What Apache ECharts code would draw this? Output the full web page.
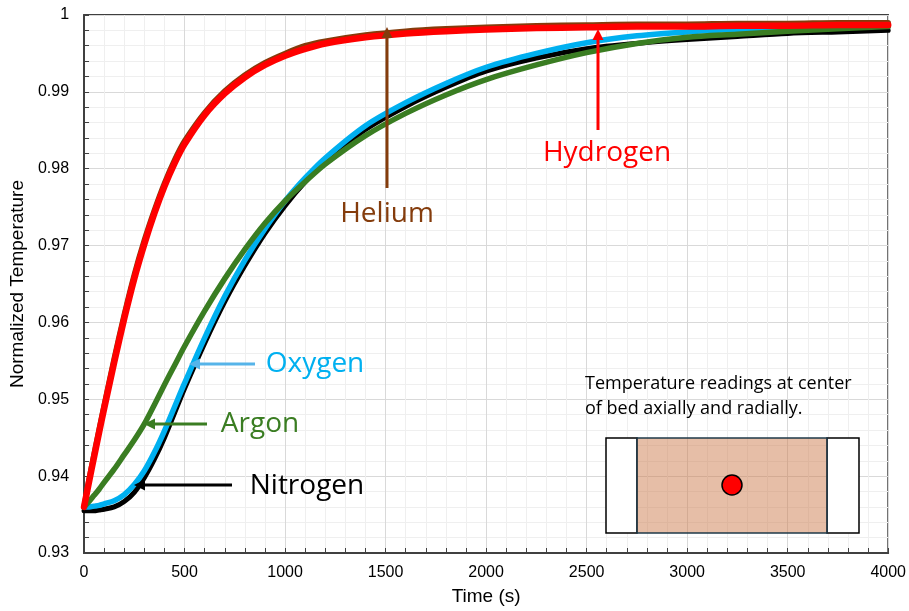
<!DOCTYPE html>
<html>
<head>
<meta charset="utf-8">
<title>Normalized Temperature</title>
<script src="https://cdn.jsdelivr.net/npm/echarts@6/dist/echarts.min.js"></script>
<style>
  html, body { margin: 0; padding: 0; background: #fff; }
  #chart { width: 909px; height: 611px; }
</style>
</head>
<body>
<div id="chart"></div>
<script>
const timeS = [0, 25, 50, 75, 100, 150, 200, 250, 300, 350, 400, 450, 500, 600, 700, 800, 900, 1000,
  1100, 1200, 1400, 1600, 1800, 2000, 2250, 2500, 2750, 3000, 3250, 3500, 3750, 4000];

const nitrogen = [0.9355, 0.9355, 0.9355, 0.9356, 0.9357, 0.9360, 0.9367, 0.9379, 0.9398, 0.9422, 0.9450, 0.9482, 0.9514, 0.9573, 0.9627, 0.9674, 0.9716, 0.9752,
  0.9783, 0.9809, 0.9851, 0.9881, 0.9906, 0.9927, 0.9944, 0.9956, 0.9963, 0.9968, 0.9972, 0.9976, 0.9978, 0.9980];

const oxygen = [0.9360, 0.9360, 0.9361, 0.9362, 0.9364, 0.9368, 0.9376, 0.9389, 0.9407, 0.9431, 0.9459, 0.9490, 0.9521, 0.9580, 0.9634, 0.9681, 0.9722, 0.9758,
  0.9788, 0.9814, 0.9856, 0.9886, 0.9911, 0.9932, 0.9950, 0.9964, 0.9973, 0.9978, 0.9981, 0.9983, 0.9985, 0.9986];

const argon = [0.9360, 0.9367, 0.9375, 0.9383, 0.9392, 0.9409, 0.9428, 0.9447, 0.9468, 0.9493, 0.9519, 0.9544, 0.9569, 0.9615, 0.9657, 0.9695, 0.9729, 0.9758,
  0.9783, 0.9806, 0.9843, 0.9872, 0.9896, 0.9916, 0.9935, 0.9951, 0.9963, 0.9971, 0.9975, 0.9979, 0.9982, 0.9985];

const helium = [0.9360, 0.9396, 0.9429, 0.9461, 0.9492, 0.9553, 0.9610, 0.9662, 0.9707, 0.9746, 0.9781, 0.9811, 0.9836, 0.9873, 0.9901, 0.9922, 0.9938, 0.9950,
  0.9960, 0.9966, 0.9974, 0.9979, 0.9982, 0.9984, 0.9986, 0.9987, 0.9988, 0.9988, 0.9989, 0.9989, 0.9990, 0.9990];

const hydrogen = [0.9360, 0.9393, 0.9425, 0.9457, 0.9488, 0.9548, 0.9605, 0.9657, 0.9702, 0.9742, 0.9777, 0.9807, 0.9832, 0.9870, 0.9898, 0.9919, 0.9935, 0.9947,
  0.9956, 0.9963, 0.9971, 0.9976, 0.9979, 0.9981, 0.9983, 0.9984, 0.9985, 0.9985, 0.9986, 0.9986, 0.9987, 0.9987];

const xTicks = [0, 500, 1000, 1500, 2000, 2500, 3000, 3500, 4000];
const yTicks = [0.93, 0.94, 0.95, 0.96, 0.97, 0.98, 0.99, 1];

const pairs = (vals) => timeS.map((t, i) => [t, vals[i]]);

const chartsInstance = echarts.init(document.getElementById("chart"), null, { renderer: "canvas" });

const lineSeries = (name, vals, color, width, z) => ({
  name: name,
  type: "line",
  z: z,
  data: pairs(vals),
  showSymbol: false,
  smooth: 0.3,
  lineStyle: { color: color, width: width, cap: "round", join: "round" },
  itemStyle: { color: color },
  animation: false,
});

const arrow = (x1, y1, x2, y2, color) => {
  // line plus a small triangle head at (x2, y2)
  const dx = x2 - x1, dy = y2 - y1;
  const len = Math.sqrt(dx * dx + dy * dy);
  const ux = dx / len, uy = dy / len;
  const hl = 11, hw = 5.5;
  const bx = x2 - ux * hl, by = y2 - uy * hl;
  return [
    { type: "line", z: 100, shape: { x1: x1, y1: y1, x2: bx, y2: by }, style: { stroke: color, lineWidth: 3 } },
    {
      type: "polygon",
      z: 100,
      shape: { points: [[x2, y2], [bx - uy * hw, by + ux * hw], [bx + uy * hw, by - ux * hw]] },
      style: { fill: color },
    },
  ];
};

const label = (text, x, y, color) => ({
  type: "text",
  z: 100,
  x: x,
  y: y,
  style: {
    text: text,
    fill: color,
    font: "28px 'Open Sans'",
    textAlign: "center",
    textVerticalAlign: "middle",
  },
});

const option = {
  backgroundColor: "#fff",
  animation: false,
  grid: {
    left: 79,
    right: 20,
    top: 15,
    bottom: 57,
    show: true,
    z: 0,
    borderColor: "#000",
    borderWidth: 1.5,
  },
  xAxis: {
    type: "value",
    z: 0,
    min: 0,
    max: 4000,
    interval: 500,
    name: "Time (s)",
    nameLocation: "middle",
    nameGap: 34,
    nameTextStyle: { fontFamily: "Liberation Sans", fontSize: 19, color: "#000" },
    axisLine: { lineStyle: { color: "#404040", width: 2 } },
    axisTick: { show: true, inside: true, length: 5, lineStyle: { color: "#404040" } },
    minorTick: { show: true, splitNumber: 5, length: 5, lineStyle: { color: "#404040" } },
    axisLabel: {
      fontFamily: "Liberation Sans",
      fontSize: 16,
      color: "#000",
      margin: 12,
      formatter: (v) => (xTicks.includes(v) ? String(v) : ""),
    },
    splitLine: { show: true, lineStyle: { color: "#D9D9D9", width: 1 } },
    minorSplitLine: { show: true, lineStyle: { color: "#EFEFEF", width: 1 } },
  },
  yAxis: {
    type: "value",
    z: 0,
    min: 0.93,
    max: 1,
    interval: 0.01,
    name: "Normalized Temperature",
    nameLocation: "middle",
    nameGap: 52,
    nameTextStyle: { fontFamily: "Liberation Sans", fontSize: 19, color: "#000" },
    axisLine: { show: true, lineStyle: { color: "#404040", width: 2 } },
    axisTick: { show: true, inside: true, length: 5, lineStyle: { color: "#404040" } },
    minorTick: { show: true, splitNumber: 5, length: 5, lineStyle: { color: "#404040" } },
    axisLabel: {
      fontFamily: "Liberation Sans",
      fontSize: 16,
      color: "#000",
      margin: 15,
      formatter: (v) => {
        const r = parseFloat(v.toFixed(3));
        return yTicks.some((t) => Math.abs(t - r) < 1e-6) ? String(r) : "";
      },
    },
    splitLine: { show: true, lineStyle: { color: "#D9D9D9", width: 1 } },
    minorSplitLine: { show: true, lineStyle: { color: "#EFEFEF", width: 1 } },
  },
  series: [
    lineSeries("Nitrogen", nitrogen, "#000000", 5, 10),
    lineSeries("Oxygen", oxygen, "#00B0F0", 5.5, 11),
    lineSeries("Argon", argon, "#3A7D22", 5.5, 12),
    lineSeries("Helium", helium, "#843C0C", 5.5, 13),
    lineSeries("Hydrogen", hydrogen, "#FF0000", 6.5, 14),
  ],
  graphic: [
    ...arrow(387, 188, 387, 27, "#843C0C"),
    ...arrow(598, 130, 598, 29, "#FF0000"),
    ...arrow(255, 364, 189, 364, "#56B4E9"),
    ...arrow(207, 424, 144, 424, "#3A7D22"),
    ...arrow(232, 485, 134, 485, "#000000"),
    label("Helium", 387, 214, "#843C0C"),
    label("Hydrogen", 607, 153, "#FF0000"),
    label("Oxygen", 315, 364, "#00B0F0"),
    label("Argon", 260, 424, "#3A7D22"),
    label("Nitrogen", 307, 486, "#000000"),
    {
      type: "text",
      z: 100,
      x: 585,
      y: 384,
      style: { text: "Temperature readings at center", fill: "#000", font: "18px 'Open Sans'", textVerticalAlign: "middle" },
    },
    {
      type: "text",
      z: 100,
      x: 585,
      y: 409,
      style: { text: "of bed axially and radially.", fill: "#000", font: "18px 'Open Sans'", textVerticalAlign: "middle" },
    },
    { type: "rect", z: 100, shape: { x: 606, y: 438, width: 31, height: 95 }, style: { fill: "#fff", stroke: "#000", lineWidth: 1.5 } },
    { type: "rect", z: 100, shape: { x: 827, y: 438, width: 32, height: 95 }, style: { fill: "#fff", stroke: "#000", lineWidth: 1.5 } },
    {
      type: "rect",
      z: 100,
      shape: { x: 637, y: 438, width: 190, height: 95 },
      style: { fill: "rgba(205, 125, 80, 0.5)", stroke: "#1F3A4A", lineWidth: 1.5 },
    },
    { type: "circle", z: 101, shape: { cx: 732, cy: 485, r: 10 }, style: { fill: "#FF0000", stroke: "#000", lineWidth: 1.5 } },
  ],
};

chartsInstance.setOption(option);
</script>
</body>
</html>
